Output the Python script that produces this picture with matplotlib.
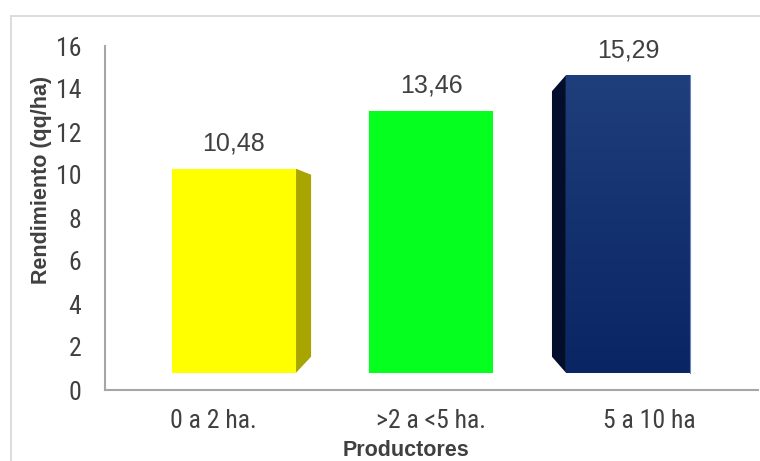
import matplotlib.pyplot as plt
import numpy as np
from matplotlib.colors import LinearSegmentedColormap
from matplotlib.patches import Rectangle

productores = ["0 a 2 ha.", ">2 a <5 ha.", "5 a 10 ha"]
rendimiento = [10.48, 13.46, 15.29]
etiquetas = ["10,48", "13,46", "15,29"]

caras = ["#FFFF00", "#05FF1E", "#1B3A7A"]
lados = ["#A8A400", "#03B012", "#020E2C"]

plt.rcParams['font.family'] = ['Liberation Sans', 'DejaVu Sans']
narrow = ['Roboto Condensed', 'Liberation Sans', 'DejaVu Sans']

fig = plt.figure(figsize=(7.6, 4.61), dpi=100)
ax = fig.add_axes([105 / 760, 71 / 461, 653 / 760, 344 / 461])

# marco exterior del grafico
fig.add_artist(Rectangle((11 / 760, -0.1), 1.2, (461 - 16) / 461 + 0.1,
                         transform=fig.transFigure, fill=False,
                         edgecolor="#D9D9D9", linewidth=1.3))

# columnas con efecto 3D: cara frontal en perspectiva y caras laterales
ancho = 0.63
s_frente, cx_f, cy_f = 0.905, 0.975, 8.47
k_fondo, vx, vy = 0.8926, 1.0207, 7.72

x = np.arange(len(productores))
for i, v in enumerate(rendimiento):
    x0 = cx_f + s_frente * (x[i] - ancho / 2 - cx_f)
    x1 = cx_f + s_frente * (x[i] + ancho / 2 - cx_f)
    y0 = cy_f + s_frente * (0 - cy_f)
    y1 = cy_f + s_frente * (v - cy_f)
    bx0, bx1 = vx + k_fondo * (x0 - vx), vx + k_fondo * (x1 - vx)
    by0, by1 = vy + k_fondo * (y0 - vy), vy + k_fondo * (y1 - vy)
    ax.fill([x1, x1, bx1, bx1], [y0, y1, by1, by0], color=lados[i], lw=0, zorder=2)
    ax.fill([x0, x0, bx0, bx0], [y0, y1, by1, by0], color=lados[i], lw=0, zorder=2)
    barra = ax.bar((x0 + x1) / 2, y1 - y0, width=x1 - x0, bottom=y0,
                   color=caras[i], zorder=3)[0]
    if i == 2:
        cmap = LinearSegmentedColormap.from_list("azul", ["#0A2563", "#1F3E7C"])
        img = ax.imshow(np.linspace(0, 1, 100).reshape(-1, 1), cmap=cmap,
                        extent=[x0, x1, y0, y1], origin="lower",
                        aspect="auto", zorder=4)
        img.set_clip_path(barra)
        ax.plot([x1, x1], [y0, y1], color="#6F84B8", lw=0.8, zorder=5)
    ax.text((x0 + x1) / 2, y1 + 1.16, etiquetas[i], ha="center", va="center",
            fontsize=18, color="#404040", zorder=6)

ax.set_xlim(-0.5, 2.5)
ax.set_ylim(0, 16)
ax.set_yticks(range(0, 17, 2))
ax.set_xticks(x)
ax.set_xticklabels(productores, family=narrow, fontsize=18.5, color="#404040")
ax.set_yticklabels([str(t) for t in range(0, 17, 2)], family=narrow,
                   fontsize=18.5, color="#404040")
ax.tick_params(axis="x", length=0, pad=14)
ax.tick_params(axis="y", length=0, pad=17)

for lado in ["top", "right"]:
    ax.spines[lado].set_visible(False)
for lado in ["left", "bottom"]:
    ax.spines[lado].set_color("#A6A6A6")
    ax.spines[lado].set_linewidth(1.5)

ax.set_ylabel("Rendimiento (qq/ha)", fontsize=15.5, fontweight="bold", color="#404040")
ax.set_xlabel("Productores", fontsize=15.5, fontweight="bold", color="#404040")
ax.yaxis.set_label_coords(-0.081, 0.61)
ax.xaxis.set_label_coords(0.461, -0.145)

fig.savefig("out.png", dpi=100)
